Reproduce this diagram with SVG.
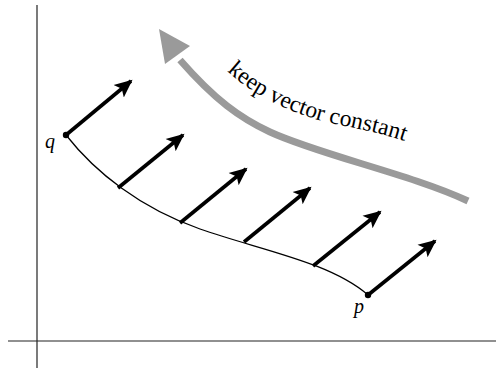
<svg xmlns="http://www.w3.org/2000/svg" width="496" height="369" viewBox="0 0 496 369">
<style>
.axis{stroke:#222;stroke-width:1.2;fill:none}
.curve{stroke:#000;stroke-width:1.3;fill:none}
.vec{stroke:#000;stroke-width:3.6;fill:none;marker-end:url(#ah)}
.lbl{font-family:"Liberation Serif",serif;font-style:italic;font-size:20px;fill:#000}
.note{font-family:"Liberation Serif",serif;font-size:23.5px;fill:#000}
</style>
<defs>
<marker id="ah" markerUnits="userSpaceOnUse" markerWidth="20" markerHeight="18" refX="16" refY="8" orient="auto" viewBox="0 0 20 16">
<path d="M0,0 L18,8 L0,16 L4,8 Z" fill="#000"/>
</marker>
<path id="tp" d="M227,71 C255,97 295,116 340,125 S400,139 425,148"/>
</defs>
<g id="axes">
<line class="axis" x1="37" y1="5" x2="37" y2="368"/>
<line class="axis" x1="8" y1="341" x2="496" y2="341"/>
</g>
<g id="path-curve">
<path class="curve" d="M66,135 C95,172 140,208 200,229 S330,262 368,295"/>
</g>
<g id="connectors">
<line class="vec" x1="66" y1="135" x2="131" y2="81"/>
<line class="vec" x1="118" y1="188" x2="183" y2="135"/>
<line class="vec" x1="180" y1="223" x2="246" y2="169"/>
<line class="vec" x1="244" y1="242" x2="310" y2="188"/>
<line class="vec" x1="313" y1="266" x2="380" y2="212"/>
<line class="vec" x1="368" y1="295" x2="435" y2="241"/>
</g>
<g id="point-q">
<circle cx="66" cy="135" r="3.2" fill="#000"/>
<text class="lbl" x="45" y="148">q</text>
</g>
<g id="point-p">
<circle cx="368" cy="295" r="3.2" fill="#000"/>
<text class="lbl" x="354" y="313">p</text>
</g>
<g id="gray-arrow">
<path d="M468,201 C410,174 320,155 270,132 C240,118 215,100 180,60" fill="none" stroke="#9a9a9a" stroke-width="7"/>
<path d="M159,29 L190,46 L165,64 Z" fill="#9a9a9a"/>
</g>
<g id="label">
<text class="note"><textPath href="#tp">keep vector constant</textPath></text>
</g>
</svg>
